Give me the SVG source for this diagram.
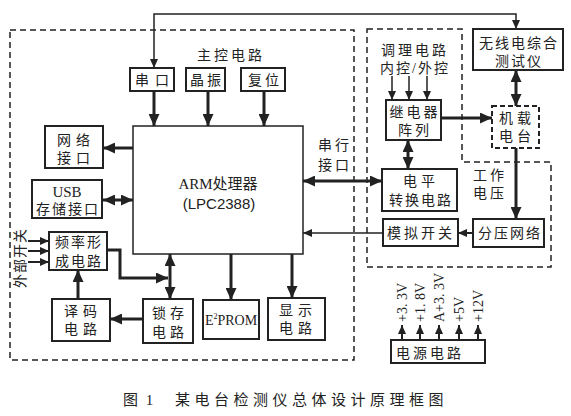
<svg xmlns="http://www.w3.org/2000/svg" width="571" height="416" viewBox="0 0 571 416">
<style>
.bx{fill:#fff;stroke:#222;stroke-width:2}
.dsh{fill:none;stroke:#222;stroke-width:1.5;stroke-dasharray:6 4}
.t{font-family:"Liberation Serif","Noto Sans CJK SC",serif;font-size:14px;fill:#222;text-anchor:middle;letter-spacing:3px}
.ts{font-family:"Liberation Serif","Noto Sans CJK SC",serif;font-size:14px;fill:#222}
.th{fill:none;stroke:#222;stroke-width:3}
.tn{fill:none;stroke:#222;stroke-width:1.5}
</style>
<defs>
<marker id="a" markerUnits="userSpaceOnUse" markerWidth="13" markerHeight="11" refX="12" refY="5.5" orient="auto-start-reverse"><path d="M0,0 L12,5.5 L0,11 z" fill="#222"/></marker>
<marker id="s" markerUnits="userSpaceOnUse" markerWidth="9" markerHeight="8" refX="9" refY="4" orient="auto-start-reverse"><path d="M0,0 L9,4 L0,8 z" fill="#222"/></marker>
</defs>
<rect width="571" height="416" fill="#fff"/>

<!-- dashed regions -->
<rect class="dsh" x="10" y="30" width="344" height="330"/>
<polygon class="dsh" points="367,29 462,29 462,162 551,162 551,267 367,267"/>
<text class="t" x="231" y="60">主控电路</text>
<text class="t" x="415" y="55">调理电路</text>
<text class="t" x="415" y="73" style="letter-spacing:2px">内控/外控</text>
<text class="t" x="335" y="150">串行</text>
<text class="t" x="335" y="170">接口</text>
<text class="t" x="490" y="180">工作</text>
<text class="t" x="490" y="198">电压</text>
<text class="t" transform="translate(25,258) rotate(-90)" style="letter-spacing:1px">外部开关</text>

<g id="connectors">
<polyline class="tn" points="154,68 154,14 516,14 516,29" marker-start="url(#s)" marker-end="url(#s)"/>
<line class="th" x1="154" y1="91" x2="154" y2="126" marker-end="url(#a)"/>
<line class="th" x1="208" y1="91" x2="208" y2="126" marker-end="url(#a)"/>
<line class="th" x1="264" y1="91" x2="264" y2="126" marker-end="url(#a)"/>
<line class="th" x1="133" y1="148" x2="103" y2="148" marker-end="url(#a)"/>
<line class="th" x1="103" y1="200" x2="133" y2="200" marker-start="url(#a)" marker-end="url(#a)"/>
<line class="tn" style="stroke-width:2" x1="28" y1="241" x2="49" y2="241" marker-end="url(#s)"/>
<line class="tn" style="stroke-width:2" x1="28" y1="251" x2="49" y2="251" marker-end="url(#s)"/>
<line class="tn" style="stroke-width:2" x1="28" y1="262" x2="49" y2="262" marker-end="url(#s)"/>
<polyline class="th" points="107,250 120,250 120,278 168,278" marker-end="url(#a)"/>
<line class="th" x1="170" y1="254" x2="170" y2="299" marker-start="url(#a)" marker-end="url(#a)"/>
<line class="th" x1="143" y1="319" x2="110" y2="319" marker-end="url(#a)"/>
<line class="th" x1="78" y1="299" x2="78" y2="270" marker-end="url(#a)"/>
<line class="th" x1="231" y1="254" x2="231" y2="300" marker-end="url(#a)"/>
<line class="th" x1="292" y1="254" x2="292" y2="298" marker-end="url(#a)"/>
<line class="th" x1="303" y1="181" x2="382" y2="181" marker-start="url(#a)" marker-end="url(#a)"/>
<line class="tn" x1="383" y1="233" x2="303" y2="233" marker-end="url(#s)"/>
<line class="tn" style="stroke-width:2" x1="473" y1="233" x2="458" y2="233" marker-end="url(#s)"/>
<line class="tn" x1="392" y1="76" x2="392" y2="100" marker-end="url(#s)"/>
<line class="tn" x1="409" y1="76" x2="409" y2="100" marker-end="url(#s)"/>
<line class="tn" x1="427" y1="76" x2="427" y2="100" marker-end="url(#s)"/>
<line class="th" x1="441" y1="118" x2="492" y2="118" marker-end="url(#a)"/>
<line class="th" x1="408" y1="140" x2="408" y2="169" marker-start="url(#a)" marker-end="url(#a)"/>
<line class="th" x1="516" y1="70" x2="516" y2="106" marker-start="url(#a)" marker-end="url(#a)"/>
<line class="th" x1="516" y1="148" x2="516" y2="219" marker-end="url(#a)"/>
<line class="tn" style="stroke-width:2" x1="402" y1="340" x2="402" y2="325" marker-end="url(#s)"/>
<line class="tn" style="stroke-width:2" x1="420" y1="340" x2="420" y2="325" marker-end="url(#s)"/>
<line class="tn" style="stroke-width:2" x1="439" y1="340" x2="439" y2="325" marker-end="url(#s)"/>
<line class="tn" style="stroke-width:2" x1="459" y1="340" x2="459" y2="325" marker-end="url(#s)"/>
<line class="tn" style="stroke-width:2" x1="478" y1="340" x2="478" y2="325" marker-end="url(#s)"/>
</g>

<g id="serial"><rect class="bx" x="130" y="68" width="44" height="23"/><text class="t" x="155" y="85" style="letter-spacing:6px">串口</text></g>
<g id="crystal"><rect class="bx" x="186" y="68" width="39" height="23"/><text class="t" x="207" y="85">晶振</text></g>
<g id="reset"><rect class="bx" x="241" y="68" width="44" height="23"/><text class="t" x="265" y="85">复位</text></g>
<g id="arm"><rect class="bx" style="stroke-width:1.5" x="133" y="126" width="170" height="128"/>
<text class="ts" x="218" y="189" text-anchor="middle" style="font-size:15px">ARM处理器</text>
<text x="219" y="209" text-anchor="middle" style="font-family:'Liberation Sans',sans-serif;font-size:15px;fill:#222">(LPC2388)</text></g>
<g id="net"><rect class="bx" x="45" y="126" width="58" height="42"/><text class="t" x="76" y="145" style="letter-spacing:5px">网络</text><text class="t" x="76" y="163" style="letter-spacing:5px">接口</text></g>
<g id="usb"><rect class="bx" x="32" y="180" width="70" height="38"/><text class="ts" x="67" y="197" text-anchor="middle" style="font-size:15px">USB</text><text class="t" x="68" y="214" style="letter-spacing:2px">存储接口</text></g>
<g id="freq"><rect class="bx" x="49" y="232" width="58" height="38"/><text class="t" x="79" y="247" style="letter-spacing:2px">频率形</text><text class="t" x="79" y="266" style="letter-spacing:2px">成电路</text></g>
<g id="decode"><rect class="bx" x="52" y="299" width="58" height="42"/><text class="t" x="83" y="316" style="letter-spacing:5px">译码</text><text class="t" x="83" y="334" style="letter-spacing:5px">电路</text></g>
<g id="latch"><rect class="bx" x="143" y="299" width="50" height="44"/><text class="t" x="170" y="318" style="letter-spacing:4px">锁存</text><text class="t" x="170" y="337" style="letter-spacing:4px">电路</text></g>
<g id="eeprom"><rect class="bx" x="203" y="300" width="56" height="39"/><text class="ts" x="231" y="325" text-anchor="middle" style="font-size:14px">E<tspan dy="-6" style="font-size:8px">2</tspan><tspan dy="6">PROM</tspan></text></g>
<g id="display"><rect class="bx" x="268" y="298" width="57" height="42"/><text class="t" x="298" y="315" style="letter-spacing:5px">显示</text><text class="t" x="298" y="333" style="letter-spacing:5px">电路</text></g>
<g id="tester"><rect class="bx" x="473" y="29" width="90" height="41"/><text class="t" x="519" y="48" style="letter-spacing:2px">无线电综合</text><text class="t" x="519" y="66" style="letter-spacing:2px">测试仪</text></g>
<g id="relay"><rect class="bx" x="386" y="100" width="55" height="40"/><text class="t" x="415" y="117">继电器</text><text class="t" x="415" y="135">阵列</text></g>
<g id="radio"><rect class="bx" style="stroke-dasharray:5 3" x="492" y="106" width="47" height="42"/><text class="t" x="517" y="123" style="letter-spacing:4px">机载</text><text class="t" x="517" y="141" style="letter-spacing:4px">电台</text></g>
<g id="level"><rect class="bx" x="382" y="169" width="75" height="42"/><text class="t" x="421" y="186" style="letter-spacing:4px">电平</text><text class="t" x="421" y="205" style="letter-spacing:2px">转换电路</text></g>
<g id="switch"><rect class="bx" x="383" y="219" width="75" height="27"/><text class="t" x="421" y="238">模拟开关</text></g>
<g id="divider"><rect class="bx" x="473" y="219" width="71" height="28"/><text class="t" x="510" y="238" style="letter-spacing:2px">分压网络</text></g>
<g id="power"><rect class="bx" x="391" y="340" width="94" height="23"/><text class="ts" x="396" y="358" style="letter-spacing:3px">电源电路</text>
<text class="ts" transform="translate(407,322) rotate(-90)">+3. 3V</text>
<text class="ts" transform="translate(425,322) rotate(-90)">+1. 8V</text>
<text class="ts" transform="translate(444,322) rotate(-90)">A+3. 3V</text>
<text class="ts" transform="translate(464,322) rotate(-90)">+5V</text>
<text class="ts" transform="translate(483,322) rotate(-90)">+12V</text></g>

<text class="ts" x="123" y="405" style="font-size:15px">图 <tspan dx="4">1</tspan></text>
<text class="ts" x="175" y="405" style="font-size:15px;letter-spacing:4.5px">某电台检测仪总体设计原理框图</text>
</svg>
